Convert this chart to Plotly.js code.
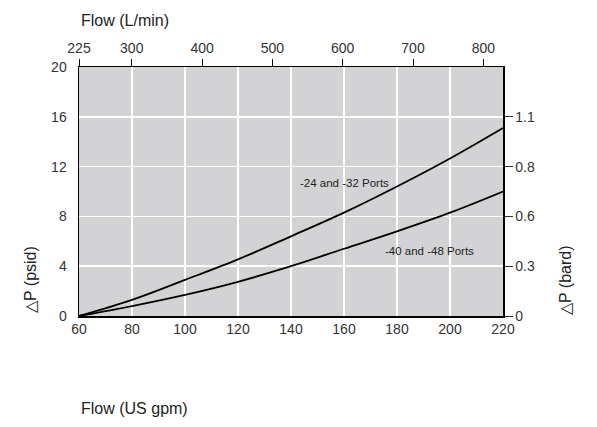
<!DOCTYPE html>
<html><head><meta charset="utf-8">
<script src="https://cdn.plot.ly/plotly-3.0.1.min.js"></script>
<style>html,body{margin:0;padding:0;background:#fff;}#chart{width:597px;height:427px;}</style>
</head><body><div id="chart"></div>
<script>
const flowGpm = [60, 80, 100, 120, 140, 160, 180, 200, 220];
const dp2432 = [0, 1.3, 2.9, 4.55, 6.4, 8.3, 10.4, 12.65, 15.1];
const dp4048 = [0, 0.8, 1.7, 2.75, 4.0, 5.4, 6.8, 8.3, 10.0];
const lpmTicks = [225, 300, 400, 500, 600, 700, 800];
const psiTicks = [0, 4, 8, 12, 16, 20];
const barTickVals = [0, 4, 8, 12, 16];
const barTickText = ['0', '0.3', '0.6', '0.8', '1.1'];
const gpmTicks = [60, 80, 100, 120, 140, 160, 180, 200, 220];

const tickFont = {family: '"Liberation Sans", Arial, sans-serif', size: 14, color: '#333'};
const titleFont = {family: '"Liberation Sans", Arial, sans-serif', size: 16, color: '#222'};
const noteFont = {family: '"Liberation Sans", Arial, sans-serif', size: 11.5, color: '#222'};

const traces = [
  {x: flowGpm, y: dp2432, mode: 'lines', line: {color: '#000', width: 1.8, shape: 'spline', smoothing: 1}, hoverinfo: 'skip'},
  {x: flowGpm, y: dp4048, mode: 'lines', line: {color: '#000', width: 1.8, shape: 'spline', smoothing: 1}, hoverinfo: 'skip'},
  {x: [], y: [], xaxis: 'x2', yaxis: 'y2', mode: 'lines', hoverinfo: 'skip', showlegend: false}
];

const layout = {
  width: 597, height: 427,
  margin: {l: 79, r: 94, t: 67, b: 111},
  paper_bgcolor: '#fff', plot_bgcolor: '#d3d3d5',
  showlegend: false,
  xaxis: {range: [60, 220], tickvals: gpmTicks, showgrid: true, gridcolor: '#fff', gridwidth: 1.5,
    showline: true, linecolor: '#000', linewidth: 1.5, ticks: '', tickfont: tickFont, zeroline: false, fixedrange: true},
  xaxis2: {range: [225, 828], overlaying: 'x', side: 'top', tickvals: lpmTicks, ticks: 'outside', ticklen: 7,
    tickcolor: '#000', tickwidth: 1, showgrid: false, showline: true, linecolor: '#000', linewidth: 1.5,
    tickfont: tickFont, zeroline: false, fixedrange: true},
  yaxis: {range: [0, 20], tickvals: psiTicks, showgrid: true, gridcolor: '#fff', gridwidth: 1.5,
    showline: true, linecolor: '#000', linewidth: 1.5, ticks: 'outside', ticklen: 8, tickcolor: 'rgba(0,0,0,0)',
    tickfont: tickFont, zeroline: false, fixedrange: true},
  yaxis2: {range: [0, 20], overlaying: 'y', side: 'right', tickvals: barTickVals, ticktext: barTickText,
    ticks: 'outside', ticklen: 8, tickcolor: '#333', tickwidth: 1, showgrid: false, showline: true,
    linecolor: '#000', linewidth: 1.5, tickfont: tickFont, zeroline: false, fixedrange: true},
  annotations: [
    {text: 'Flow (L/min)', xref: 'paper', yref: 'paper', x: 0, y: 1, yshift: 47, xanchor: 'left', yanchor: 'middle', showarrow: false, font: titleFont},
    {text: 'Flow (US gpm)', xref: 'paper', yref: 'paper', x: 0, y: 0, yshift: -92, xanchor: 'left', yanchor: 'middle', showarrow: false, font: titleFont},
    {text: '\u25B3P (psid)', xref: 'paper', yref: 'paper', x: 0, y: 0, xshift: -49, yshift: 36, textangle: -90, xanchor: 'center', yanchor: 'middle', showarrow: false, font: titleFont},
    {text: '\u25B3P (bard)', xref: 'paper', yref: 'paper', x: 1, y: 0, xshift: 62, yshift: 36, textangle: -90, xanchor: 'center', yanchor: 'middle', showarrow: false, font: titleFont},
    {text: '-24 and -32 Ports', x: 160.2, y: 10.7, xanchor: 'center', yanchor: 'middle', showarrow: false, font: noteFont},
    {text: '-40 and -48 Ports', x: 192.3, y: 5.25, xanchor: 'center', yanchor: 'middle', showarrow: false, font: noteFont}
  ]
};
Plotly.newPlot('chart', traces, layout, {staticPlot: true, displayModeBar: false});
</script></body></html>
